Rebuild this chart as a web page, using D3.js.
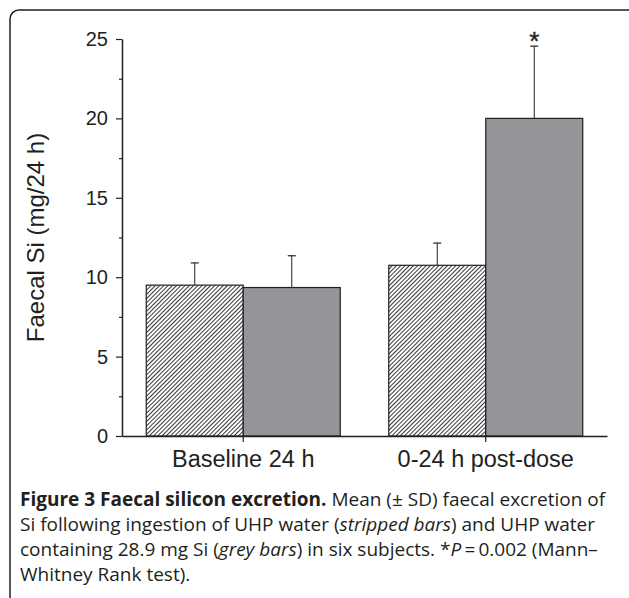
<!DOCTYPE html>
<html>
<head>
<meta charset="utf-8">
<script src="https://cdn.jsdelivr.net/npm/d3@7"></script>
<style>
  body { margin: 0; background: #fff; }
  svg { display: block; }
  .caption { font-family: "Open Sans", sans-serif; font-size: 19px; fill: #231f20; }
</style>
</head>
<body>
<div id="chart"></div>
<script>
const categories = ['Baseline 24 h', '0-24 h post-dose'];
const series = ['UHP water', 'UHP water + Si'];
const meanUhp = [9.5, 10.75];
const sdUhp = [1.4, 1.4];
const meanSi = [9.35, 20.0];
const sdSi = [2.0, 4.55];
const yTicks = [0, 5, 10, 15, 20, 25];
const yMinorTicks = [2.5, 7.5, 12.5, 17.5, 22.5];
const starred = [false, true];

const width = 629;
const height = 598;
const margin = {top: 39, right: 22, bottom: 162, left: 122};
const ink = '#231f20';
const axisFont = 'Liberation Sans, Arial, sans-serif';

const svg = d3.select('#chart').append('svg')
    .attr('width', width)
    .attr('height', height);

// hatch pattern for the plain-water bars
const defs = svg.append('defs');
const pat = defs.append('pattern')
    .attr('id', 'hatch')
    .attr('patternUnits', 'userSpaceOnUse')
    .attr('width', 3)
    .attr('height', 3)
    .attr('patternTransform', 'rotate(45)');
pat.append('rect').attr('width', 3).attr('height', 3).attr('fill', '#fff');
pat.append('line')
    .attr('x1', 0.5).attr('y1', 0).attr('x2', 0.5).attr('y2', 3)
    .attr('stroke', ink).attr('stroke-width', 0.9);

// outer rounded frame
svg.append('rect')
    .attr('x', 10).attr('y', 10)
    .attr('width', 630).attr('height', 595)
    .attr('rx', 9)
    .attr('fill', 'none')
    .attr('stroke', ink)
    .attr('stroke-width', 1.5);

const x0 = d3.scaleBand()
    .domain(categories)
    .range([margin.left, width - margin.right])
    .padding(0);

const x1 = d3.scaleBand()
    .domain(series)
    .range([0, x0.bandwidth()])
    .paddingOuter(0.25)
    .paddingInner(0);

const y = d3.scaleLinear()
    .domain([0, 25])
    .range([height - margin.bottom, margin.top]);

const rows = categories.map((c, i) => ({
    cat: c,
    bars: [
        {s: series[0], mean: meanUhp[i], sd: sdUhp[i]},
        {s: series[1], mean: meanSi[i], sd: sdSi[i]}
    ],
    star: starred[i]
}));

const groups = svg.append('g')
  .selectAll('g')
  .data(rows)
  .join('g')
    .attr('transform', d => `translate(${x0(d.cat)},0)`);

// error bars (upper only), drawn behind bars
groups.selectAll('.err')
  .data(d => d.bars)
  .join('g')
    .attr('class', 'err')
    .each(function(d) {
        const g = d3.select(this);
        const cx = x1(d.s) + x1.bandwidth() / 2;
        g.append('line')
            .attr('x1', cx).attr('x2', cx)
            .attr('y1', y(d.mean)).attr('y2', y(d.mean + d.sd))
            .attr('stroke', ink).attr('stroke-width', 1);
        g.append('line')
            .attr('x1', cx - 4).attr('x2', cx + 4)
            .attr('y1', y(d.mean + d.sd)).attr('y2', y(d.mean + d.sd))
            .attr('stroke', ink).attr('stroke-width', 1.2);
    });

groups.selectAll('rect')
  .data(d => d.bars)
  .join('rect')
    .attr('x', d => x1(d.s))
    .attr('y', d => y(d.mean))
    .attr('width', x1.bandwidth())
    .attr('height', d => y(0) - y(d.mean))
    .attr('fill', (d, i) => i === 0 ? 'url(#hatch)' : '#939598')
    .attr('stroke', ink)
    .attr('stroke-width', 1.2);

// significance star
groups.filter(d => d.star)
  .append('text')
    .attr('x', x1(series[1]) + x1.bandwidth() / 2)
    .attr('y', d => y(d.bars[1].mean + d.bars[1].sd) + 4)
    .attr('text-anchor', 'middle')
    .attr('font-family', axisFont)
    .attr('font-size', 26)
    .attr('stroke', ink)
    .attr('stroke-width', 0.4)
    .attr('fill', ink)
    .text('*');

// y axis
const yAxis = svg.append('g')
    .attr('transform', `translate(${margin.left},0)`)
    .call(d3.axisLeft(y).tickValues(yTicks).tickSize(6).tickPadding(8).tickSizeOuter(0));
yAxis.selectAll('line').attr('stroke', ink).attr('stroke-width', 1.2);
yAxis.select('.domain').attr('stroke', ink).attr('stroke-width', 1.5);
yAxis.selectAll('text')
    .attr('font-family', axisFont)
    .attr('font-size', 20)
    .attr('fill', ink);
svg.append('g')
    .attr('transform', `translate(${margin.left},0)`)
    .call(d3.axisLeft(y).tickValues(yMinorTicks).tickSize(3).tickFormat(''))
    .call(g => g.select('.domain').remove())
    .selectAll('line').attr('stroke', ink).attr('stroke-width', 1.2);

// x axis
const xAxis = svg.append('g')
    .attr('transform', `translate(0,${y(0)})`)
    .call(d3.axisBottom(x0).tickSize(6).tickSizeOuter(0).tickPadding(8));
xAxis.selectAll('.tick').attr('transform', d => `translate(${x0(d) + x0.bandwidth() / 2},0)`);
xAxis.selectAll('line').attr('stroke', ink).attr('stroke-width', 1.2);
xAxis.select('.domain').attr('stroke', ink).attr('stroke-width', 1.5);
xAxis.selectAll('text')
    .attr('font-family', axisFont)
    .attr('font-size', 23.5)
    .attr('fill', ink);

// y label
svg.append('text')
    .attr('transform', `translate(44,${(y(0) + y(25)) / 2}) rotate(-90)`)
    .attr('text-anchor', 'middle')
    .attr('font-family', axisFont)
    .attr('font-size', 24)
    .attr('fill', ink)
    .text('Faecal Si (mg/24 h)');

// caption
const cap = svg.append('text').attr('class', 'caption');
const l1 = cap.append('tspan').attr('x', 20).attr('y', 506);
l1.append('tspan').attr('font-weight', 'bold').text('Figure 3 Faecal silicon excretion.');
l1.append('tspan').text(' Mean (\u00b1 SD) faecal excretion of');
const l2 = cap.append('tspan').attr('x', 20).attr('y', 531);
l2.append('tspan').text('Si following ingestion of UHP water (');
l2.append('tspan').attr('font-style', 'italic').text('stripped bars');
l2.append('tspan').text(') and UHP water');
const l3 = cap.append('tspan').attr('x', 20).attr('y', 556);
l3.append('tspan').text('containing 28.9 mg Si (');
l3.append('tspan').attr('font-style', 'italic').text('grey bars');
l3.append('tspan').text(') in six subjects. *');
l3.append('tspan').attr('font-style', 'italic').text('P');
l3.append('tspan').text('\u2009=\u20090.002 (Mann\u2013');
cap.append('tspan').attr('x', 20).attr('y', 581).text('Whitney Rank test).');
</script>
</body>
</html>
